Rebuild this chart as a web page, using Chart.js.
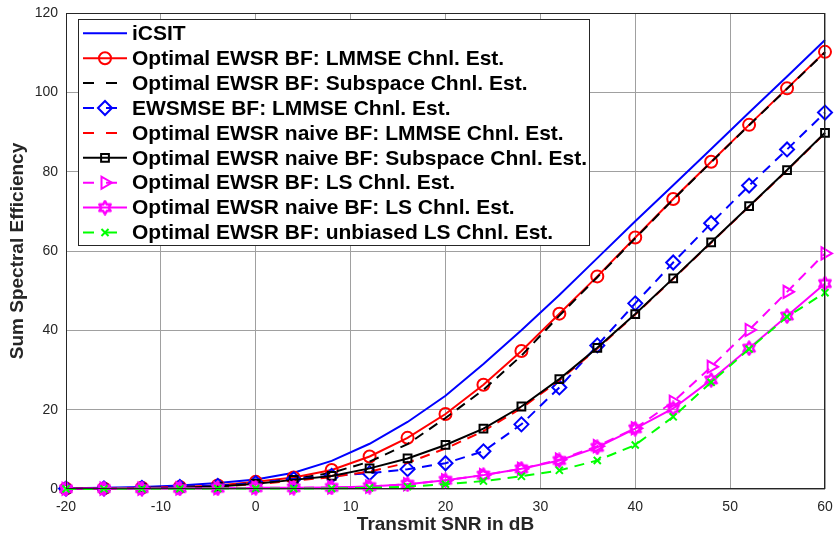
<!DOCTYPE html>
<html><head><meta charset="utf-8">
<script src="https://cdn.jsdelivr.net/npm/chart.js@4.4.1/dist/chart.umd.min.js"></script>
<style>html,body{margin:0;padding:0;background:#fff;}#wrap{width:835px;height:535px;}</style>
</head><body><div id="wrap"><canvas id="c" width="835" height="535"></canvas></div>
<script>
// ---- data ----
const snrDb = [-20,-16,-12,-8,-4,0,4,8,12,16,20,24,28,32,36,40,44,48,52,56,60];
const xTicks = [-20,-10,0,10,20,30,40,50,60];
const yTicks = [0,20,40,60,80,100,120];
const seriesLabels = [
  'iCSIT',
  'Optimal EWSR BF: LMMSE Chnl. Est.',
  'Optimal EWSR BF: Subspace Chnl. Est.',
  'EWSMSE BF: LMMSE Chnl. Est.',
  'Optimal EWSR naive BF: LMMSE Chnl. Est.',
  'Optimal EWSR naive BF: Subspace Chnl. Est.',
  'Optimal EWSR BF: LS Chnl. Est.',
  'Optimal EWSR naive BF: LS Chnl. Est.',
  'Optimal EWSR BF: unbiased LS Chnl. Est.'
];
const iCSIT          = [0.2,0.3,0.5,0.9,1.5,2.4,4.1,7.1,11.4,16.9,23.5,31.5,40.0,48.9,58.2,67.5,76.6,85.7,94.9,104.0,113.2];
const optLmmse       = [0.1,0.15,0.3,0.5,0.9,1.8,2.9,4.8,8.2,12.9,18.9,26.3,34.8,44.2,53.6,63.4,73.1,82.5,91.8,101.0,110.2];
const optSubspace    = [0.1,0.15,0.3,0.5,0.8,1.5,2.5,4.1,6.9,11.3,17.9,25.0,33.6,43.7,53.4,63.2,73.0,82.4,91.7,100.9,110.1];
const ewsmseLmmse    = [0.1,0.15,0.3,0.5,0.8,1.5,2.5,3.3,4.0,5.0,6.5,9.5,16.3,25.6,36.2,46.8,57.1,67.0,76.5,85.6,94.9];
const naiveLmmse     = [0.05,0.1,0.2,0.3,0.6,1.2,2.1,3.0,4.4,6.6,10.2,14.6,20.4,27.4,35.4,44.0,53.0,62.1,71.2,80.3,89.7];
const naiveSubspace  = [0.05,0.1,0.2,0.3,0.6,1.3,2.3,3.3,5.2,7.7,11.1,15.2,20.8,27.7,35.6,44.1,53.1,62.2,71.3,80.4,89.8];
const optLs          = [0.05,0.1,0.1,0.15,0.2,0.3,0.3,0.4,0.6,1.2,2.2,3.5,5.1,7.4,10.8,15.3,22.0,30.8,40.1,49.7,59.4];
const naiveLs        = [0.05,0.1,0.1,0.15,0.2,0.3,0.3,0.4,0.6,1.2,2.2,3.5,5.1,7.2,10.5,15.2,20.3,27.5,35.5,43.6,51.8];
const unbiasedLs     = [0.02,0.03,0.05,0.07,0.1,0.1,0.1,0.15,0.3,0.6,1.2,2.0,3.2,4.7,7.2,11.1,18.2,26.9,35.3,43.4,49.5];

// ---- styling ----
const FONT = "'Liberation Sans', Arial, Helvetica, sans-serif";
const DASH = [10, 7];

function hexagram(color) {
  const c = document.createElement('canvas');
  c.width = 16; c.height = 16;
  const g = c.getContext('2d');
  const cx = 8, cy = 8, R = 6.5, r = R / Math.sqrt(3);
  g.beginPath();
  for (let k = 0; k < 12; k++) {
    const a = -Math.PI / 2 + k * Math.PI / 6;
    const rr = k % 2 === 0 ? R : r;
    const px = cx + rr * Math.cos(a), py = cy + rr * Math.sin(a);
    k === 0 ? g.moveTo(px, py) : g.lineTo(px, py);
  }
  g.closePath();
  g.strokeStyle = color; g.lineWidth = 2.5; g.lineJoin = 'round'; g.stroke();
  return c;
}
const starImg = hexagram('#ff00ff');

const toXY = arr => arr.map((v, i) => ({x: snrDb[i], y: v}));
function ds(i, data, color, dashed, style, radius, rotation) {
  return {
    label: seriesLabels[i], data: toXY(data),
    borderColor: color, backgroundColor: 'transparent',
    borderWidth: 2, borderDash: dashed ? DASH : [],
    pointStyle: style || 'circle', pointRadius: style ? radius : 0,
    pointRotation: rotation || 0,
    pointBorderColor: color, pointBackgroundColor: 'rgba(0,0,0,0)', pointBorderWidth: 2,
    tension: 0, fill: false, clip: false, order: 20 - i
  };
}
const datasets = [
  ds(0, iCSIT, '#0000ff', false, null),
  ds(1, optLmmse, '#ff0000', false, 'circle', 6),
  ds(2, optSubspace, '#000000', true, null),
  ds(3, ewsmseLmmse, '#0000ff', true, 'rectRot', 7),
  ds(4, naiveLmmse, '#ff0000', true, null),
  ds(5, naiveSubspace, '#000000', false, 'rect', 5.5),
  ds(6, optLs, '#ff00ff', true, 'triangle', 7, 90),
  ds(7, naiveLs, '#ff00ff', false, starImg, 8),
  ds(8, unbiasedLs, '#00ff00', true, 'crossRot', 5)
];

const boxPlugin = {
  id: 'box',
  afterDraw(chart) {
    const {ctx, chartArea: a} = chart;
    ctx.save();
    ctx.strokeStyle = '#262626'; ctx.lineWidth = 1;
    ctx.strokeRect(Math.round(a.left) + 0.5, Math.round(a.top) + 0.5, Math.round(a.right - a.left) - 1, Math.round(a.bottom - a.top) - 1);
    // legend
    const lx = a.left + 12, ly = a.top + 6, lw = 511, lh = 226;
    ctx.fillStyle = '#ffffff'; ctx.fillRect(lx, ly, lw, lh);
    ctx.strokeStyle = '#262626'; ctx.lineWidth = 1;
    ctx.strokeRect(lx + 0.5, ly + 0.5, lw, lh);
    ctx.font = 'bold 21px ' + FONT;
    ctx.textBaseline = 'middle'; ctx.textAlign = 'left';
    chart.data.datasets.forEach((d, i) => {
      const y = ly + 14.3 + i * 24.9;
      ctx.save();
      ctx.strokeStyle = d.borderColor; ctx.lineWidth = 2;
      ctx.setLineDash(d.borderDash.length ? [11, 12] : []);
      ctx.beginPath(); ctx.moveTo(lx + 5, y); ctx.lineTo(lx + 49, y); ctx.stroke();
      ctx.setLineDash([]);
      if (d.pointRadius > 0) {
        ctx.strokeStyle = d.pointBorderColor; ctx.fillStyle = 'rgba(0,0,0,0)'; ctx.lineWidth = 2;
        Chart.helpers.drawPoint(ctx, {pointStyle: d.pointStyle, rotation: d.pointRotation, radius: d.pointRadius, borderWidth: 2}, lx + 27, y);
      }
      ctx.restore();
      ctx.fillStyle = '#000000';
      ctx.fillText(d.label, lx + 54, y + 1);
    });
    ctx.restore();
  }
};

new Chart(document.getElementById('c'), {
  type: 'line',
  data: {datasets},
  plugins: [boxPlugin],
  options: {
    responsive: false, animation: false, devicePixelRatio: 1,
    layout: {padding: {left: 0, right: 9, top: 13, bottom: 0}},
    plugins: {legend: {display: false}, tooltip: {enabled: false}},
    elements: {line: {borderCapStyle: 'butt'}},
    scales: {
      x: {
        type: 'linear', min: -20, max: 60,
        afterBuildTicks: s => { s.ticks = xTicks.map(v => ({value: v})); },
        afterFit: s => { s.height = 46; s.paddingLeft = 0; s.paddingRight = 0; },
        ticks: {font: {family: FONT, size: 14}, color: '#262626', padding: 10, maxRotation: 0, autoSkip: false},
        grid: {color: '#a0a0a0', lineWidth: 1, drawTicks: false},
        border: {display: false},
        title: {display: true, text: 'Transmit SNR in dB', color: '#262626',
                font: {family: FONT, size: 19, weight: 'bold', lineHeight: 1}, padding: {top: 0, bottom: 1}}
      },
      y: {
        type: 'linear', min: 0, max: 120,
        afterBuildTicks: s => { s.ticks = yTicks.map(v => ({value: v})); },
        afterFit: s => { s.width = 66; s.paddingTop = 0; s.paddingBottom = 0; },
        ticks: {font: {family: FONT, size: 14}, color: '#262626', padding: 8, autoSkip: false},
        grid: {color: '#a0a0a0', lineWidth: 1, drawTicks: false},
        border: {display: false},
        title: {display: true, text: 'Sum Spectral Efficiency', color: '#262626',
                font: {family: FONT, size: 19, weight: 'bold', lineHeight: 1}, padding: {top: 8, bottom: 0}}
      }
    }
  }
});
</script></body></html>
